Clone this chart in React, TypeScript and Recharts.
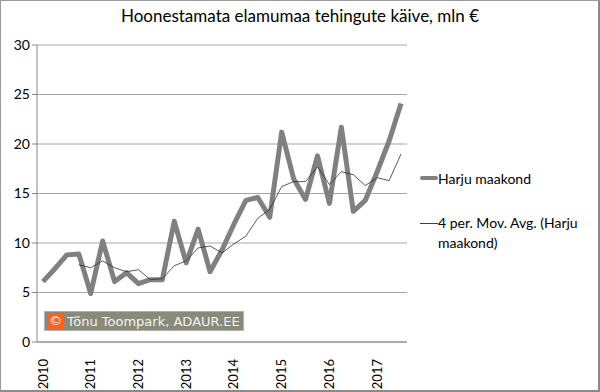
import { Legend, Line, LineChart, XAxis, YAxis, CartesianGrid } from "recharts";

// kvartalid 2010 I – 2017 III
const kvartalid = [
  "2010 I", "2010 II", "2010 III", "2010 IV",
  "2011 I", "2011 II", "2011 III", "2011 IV",
  "2012 I", "2012 II", "2012 III", "2012 IV",
  "2013 I", "2013 II", "2013 III", "2013 IV",
  "2014 I", "2014 II", "2014 III", "2014 IV",
  "2015 I", "2015 II", "2015 III", "2015 IV",
  "2016 I", "2016 II", "2016 III", "2016 IV",
  "2017 I", "2017 II", "2017 III",
];

const harju = [
  6.1, 7.4, 8.8, 8.9, 4.9, 10.2, 6.1, 7.0,
  5.9, 6.3, 6.3, 12.2, 8.0, 11.4, 7.1, 9.3,
  11.9, 14.3, 14.6, 12.6, 21.2, 16.5, 14.4, 18.8,
  14.0, 21.7, 13.2, 14.3, 17.2, 20.3, 24.1,
];

// 4 per. libisev keskmine, loetud pildilt
const libisev = [
  null, null, null, 7.8, 7.5, 8.2, 7.5, 7.1,
  7.3, 6.3, 6.4, 7.7, 8.2, 9.5, 9.7, 9.0,
  9.9, 10.7, 12.5, 13.4, 15.7, 16.2, 16.2, 17.7,
  15.9, 17.2, 16.9, 15.8, 16.6, 16.3, 19.0,
];

const aastad = [2010, 2011, 2012, 2013, 2014, 2015, 2016, 2017];
const yTicks = [0, 5, 10, 15, 20, 25, 30];

const FONT = "Lato, 'Open Sans', sans-serif";

const andmed = kvartalid.map((k, i) => ({ k, x: i + 0.5, harju: harju[i], libisev: libisev[i] }));

const tickMarks = kvartalid.map((_, i) => i).concat([kvartalid.length]);
const aastaTicks = aastad.map((_, i) => i * 4 + 0.5);

function AastaTick({ x, y, payload }: any) {
  const aasta = aastad[Math.round((payload.value - 0.5) / 4)];
  return (
    <g transform={`translate(${x},${y})`}>
      <text transform="rotate(-90)" x={-3} dy="0.35em" textAnchor="end" fontSize={13} fontFamily={FONT} fill="#000">
        {aasta}
      </text>
    </g>
  );
}

function Legendike() {
  return (
    <div style={{ fontFamily: FONT, fontSize: 14, color: "#000", width: 180 }}>
      <div style={{ display: "flex", alignItems: "center", height: 20 }}>
        <span style={{ display: "inline-block", width: 18, height: 4, borderRadius: 2, background: "#808080" }} />
        <span>Harju maakond</span>
      </div>
      <div style={{ display: "flex", alignItems: "flex-start", marginTop: 25, lineHeight: "20px" }}>
        <span style={{ display: "inline-block", width: 18, height: 1, background: "#404040", marginTop: 10, flex: "none" }} />
        <span>4 per. Mov. Avg. (Harju maakond)</span>
      </div>
    </div>
  );
}

export default function App() {
  return (
    <div style={{ position: "absolute", left: 0, top: 0, width: 600, height: 392, background: "#fff" }}>
      <div
        style={{
          position: "absolute", left: 0, top: 5, width: 600, textAlign: "center",
          fontFamily: FONT, fontSize: 17, color: "#000",
        }}
      >
        Hoonestamata elamumaa tehingute käive, mln €
      </div>
      <LineChart width={600} height={392} data={andmed} margin={{ top: 45, right: 13, bottom: 0, left: 0 }}>
        <CartesianGrid horizontal vertical={false} stroke="#a6a6a6" />
        <YAxis
          domain={[0, 30]}
          ticks={yTicks}
          width={37}
          tickSize={5}
          stroke="#868686"
          tick={{ fontSize: 14, fontFamily: FONT, fill: "#000" }}
        />
        <XAxis
          dataKey="x"
          type="number"
          domain={[0, 31]}
          ticks={tickMarks}
          tick={false}
          tickSize={5}
          height={6}
          stroke="#868686"
        />
        <XAxis
          xAxisId="aastad"
          dataKey="x"
          type="number"
          domain={[0, 31]}
          ticks={aastaTicks}
          axisLine={false}
          tickLine={false}
          height={44}
          tick={<AastaTick />}
        />
        <Legend
          layout="vertical"
          align="right"
          verticalAlign="middle"
          content={<Legendike />}
          wrapperStyle={{ position: "absolute", left: 420, top: 168, width: 180 }}
        />
        <Line
          dataKey="harju"
          name="Harju maakond"
          stroke="#808080"
          strokeWidth={5}
          strokeLinejoin="round"
          dot={false}
          isAnimationActive={false}
        />
        <Line
          dataKey="libisev"
          name="4 per. Mov. Avg. (Harju maakond)"
          stroke="#303030"
          strokeWidth={0.8}
          dot={false}
          isAnimationActive={false}
        />
      </LineChart>
      <div
        style={{
          position: "absolute", left: 44, top: 311, height: 16, padding: "1px 3px 1px 2px",
          background: "#8a8a7a", border: "1px solid #b0b0b0", display: "flex", alignItems: "center",
          fontFamily: "'DejaVu Sans', sans-serif", fontSize: 13, color: "#f4f4f0", whiteSpace: "nowrap",
        }}
      >
        <span style={{ background: "#f26522", color: "#fff", padding: "0 2px", marginRight: 3, lineHeight: "16px" }}>©</span>
        Tõnu Toompark, ADAUR.EE
      </div>
      <div
        style={{
          position: "absolute", left: 0, top: 0, width: 600, height: 392, boxSizing: "border-box",
          borderTop: "1px solid #9a9a9a", borderLeft: "1px solid #9a9a9a",
          borderRight: "2px solid #8a8a8a", borderBottom: "2px solid #8a8a8a", pointerEvents: "none",
        }}
      />
    </div>
  );
}
